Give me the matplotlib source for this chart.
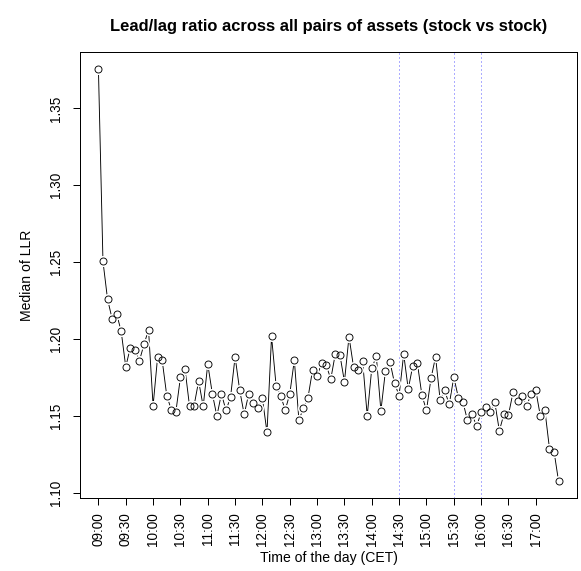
import matplotlib
matplotlib.use("Agg")
import matplotlib.pyplot as plt
import numpy as np

plt.rcParams['font.family'] = ['Liberation Sans', 'DejaVu Sans']

# median lead/lag ratio, one value every 5 minutes from 09:00 to 17:25
llr = [1.376, 1.2506, 1.2261, 1.2133, 1.2165, 1.2050, 1.1820, 1.1944, 1.1931, 1.1859,
       1.1965, 1.2061, 1.1566, 1.1885, 1.1861, 1.1633, 1.1540, 1.1527, 1.1751, 1.1807,
       1.1564, 1.1568, 1.1727, 1.1562, 1.1838, 1.1646, 1.1499, 1.1645, 1.1536, 1.1623,
       1.1885, 1.1669, 1.1510, 1.1646, 1.1586, 1.1549, 1.1614, 1.1393, 1.2018, 1.1697,
       1.1632, 1.1538, 1.1643, 1.1864, 1.1475, 1.1549, 1.1620, 1.1799, 1.1762, 1.1844,
       1.1831, 1.1740, 1.1905, 1.1898, 1.1723, 1.2016, 1.1818, 1.1799, 1.1855, 1.1501,
       1.1812, 1.1887, 1.1534, 1.1794, 1.1851, 1.1712, 1.1633, 1.1903, 1.1675, 1.1827,
       1.1844, 1.1636, 1.1536, 1.1745, 1.1885, 1.1604, 1.1666, 1.1575, 1.1753, 1.1620,
       1.1592, 1.1471, 1.1512, 1.1434, 1.1523, 1.1560, 1.1529, 1.1588, 1.1404, 1.1512,
       1.1508, 1.1653, 1.1599, 1.1627, 1.1566, 1.1645, 1.1666, 1.1499, 1.1536, 1.1288,
       1.1269, 1.1074]

tick_pos = [0, 6, 12, 18, 24, 30, 36, 42, 48, 54, 60, 66, 72, 78, 84, 90, 96]
tick_lab = ['09:00', '09:30', '10:00', '10:30', '11:00', '11:30', '12:00', '12:30',
            '13:00', '13:30', '14:00', '14:30', '15:00', '15:30', '16:00', '16:30', '17:00']
vlines = [66, 78, 84]   # 14:30, 15:30, 16:00
yticks = [1.10, 1.15, 1.20, 1.25, 1.30, 1.35]

x = np.arange(len(llr))
y = np.array(llr)

fig = plt.figure(figsize=(581 / 72, 571 / 72), dpi=72)
ax = fig.add_axes([80 / 581, 73 / 571, 497 / 581, 446 / 571])

for v in vlines:
    ax.axvline(v, color='#5a5aff', linestyle=(0, (1, 3)), linewidth=1)

ax.plot(x, y, color='black', linewidth=0.9, zorder=2)
ax.plot(x, y, linestyle='none', marker='o', markersize=10, markerfacecolor='white',
        markeredgecolor='white', zorder=3)
ax.plot(x, y, linestyle='none', marker='o', markersize=7, markerfacecolor='none',
        markeredgecolor='black', markeredgewidth=0.9, zorder=4)

xr = x.max() - x.min()
ax.set_xlim(x.min() - 0.04 * xr, x.max() + 0.04 * xr)
yr = y.max() - y.min()
ax.set_ylim(y.min() - 0.04 * yr, y.max() + 0.04 * yr)

for s in ax.spines.values():
    s.set_linewidth(1)

ax.set_xticks(tick_pos)
ax.set_xticklabels(tick_lab, rotation=90, fontsize=13.5)
ax.set_yticks(yticks)
ax.set_yticklabels(['%.2f' % t for t in yticks], rotation=90, va='center', fontsize=13.5)
ax.tick_params(direction='out', length=7, width=1)
ax.tick_params(axis='x', pad=7)
ax.tick_params(axis='y', pad=10)

ax.set_xlabel('Time of the day (CET)', fontsize=14, va='center')
ax.xaxis.set_label_coords(0.5, -0.134)
ax.set_ylabel('Median of LLR', fontsize=14, va='center')
ax.yaxis.set_label_coords(-0.107, 0.5)
fig.text((80 + 497 / 2) / 581, 1 - 26 / 571,
         'Lead/lag ratio across all pairs of assets (stock vs stock)',
         fontsize=16.5, fontweight='bold', ha='center', va='center')

fig.savefig('out.png', dpi=72)
